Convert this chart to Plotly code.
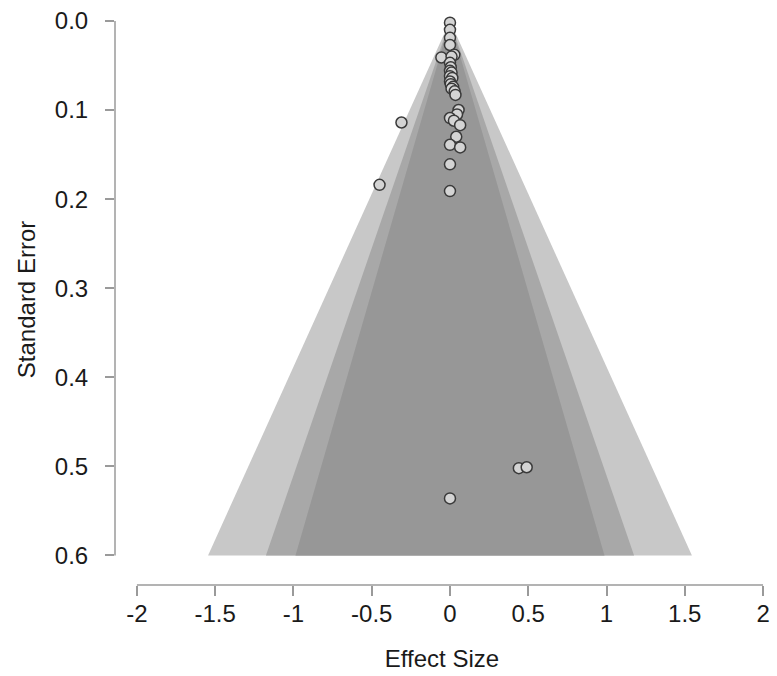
import plotly.graph_objects as go

# Study effect sizes and standard errors
effect_size = [0.0, 0.0, 0.0, 0.0, -0.055, 0.028, 0.01, 0.0, 0.005, 0.0,
               0.01, 0.0, 0.015, 0.0, 0.005, 0.02, 0.01, 0.03, 0.035, 0.055,
               0.045, 0.0, 0.025, 0.065, 0.04, 0.0, 0.065, 0.0, 0.0, -0.31,
               -0.45, 0.44, 0.49, 0.0]
std_error = [0.002, 0.010, 0.019, 0.027, 0.041, 0.038, 0.040, 0.047, 0.052, 0.056,
             0.058, 0.062, 0.064, 0.068, 0.071, 0.074, 0.076, 0.079, 0.083, 0.100,
             0.105, 0.109, 0.112, 0.117, 0.130, 0.139, 0.142, 0.161, 0.191, 0.114,
             0.184, 0.502, 0.501, 0.536]

# Contour levels (z critical values) and their fill colours: 99%, 95%, 90%
z_levels = [2.576, 1.96, 1.645]
z_colors = ["#c8c8c8", "#a8a8a8", "#979797"]
center = 0.0
se_max = 0.6

x_ticks = [-2, -1.5, -1, -0.5, 0, 0.5, 1, 1.5, 2]
x_tick_text = ["-2", "-1.5", "-1", "-0.5", "0", "0.5", "1", "1.5", "2"]
y_ticks = [0.0, 0.1, 0.2, 0.3, 0.4, 0.5, 0.6]
y_tick_text = ["0.0", "0.1", "0.2", "0.3", "0.4", "0.5", "0.6"]

fig = go.Figure()

for z, col in zip(z_levels, z_colors):
    fig.add_trace(go.Scatter(
        x=[center, center - z * se_max, center + z * se_max, center],
        y=[0, se_max, se_max, 0],
        fill="toself", fillcolor=col, mode="lines",
        line=dict(width=0, color=col), hoverinfo="skip", showlegend=False))

fig.add_trace(go.Scatter(
    x=effect_size, y=std_error, mode="markers",
    marker=dict(size=11, color="#d4d4d4", line=dict(color="#3a3a3a", width=1.5)),
    showlegend=False))

axis_col = "#9a9a9a"
font_col = "#1a1a1a"

fig.update_layout(
    width=777, height=676,
    margin=dict(l=115, r=7, t=10, b=91),
    plot_bgcolor="white", paper_bgcolor="white",
    font=dict(family="Liberation Sans, Arial, sans-serif", color=font_col, size=24),
    xaxis=dict(range=[-2.140, 2.038], tickvals=x_ticks, ticktext=x_tick_text,
               showgrid=False, zeroline=False, showline=False,
               ticks="outside", ticklen=10, tickcolor=axis_col, tickwidth=1.5,
               tickfont=dict(size=24), ticklabelstandoff=-3,
               title=dict(text="Effect Size", font=dict(size=24), standoff=24)),
    yaxis=dict(range=[0.6332, -0.0078], tickvals=y_ticks, ticktext=y_tick_text,
               showgrid=False, zeroline=False, showline=False,
               ticks="outside", ticklen=9, tickcolor=axis_col, tickwidth=1.5,
               tickfont=dict(size=24), ticklabelstandoff=12,
               title=dict(text="Standard Error", font=dict(size=24), standoff=12)),
)

# R-style axis lines spanning only the tick range
fig.add_shape(type="line", xref="x", yref="paper", x0=x_ticks[0], x1=x_ticks[-1],
              y0=0, y1=0, line=dict(color=axis_col, width=1.5))
fig.add_shape(type="line", xref="paper", yref="y", x0=0, x1=0,
              y0=y_ticks[0], y1=y_ticks[-1], line=dict(color=axis_col, width=1.5))

fig.write_html("out.html")
